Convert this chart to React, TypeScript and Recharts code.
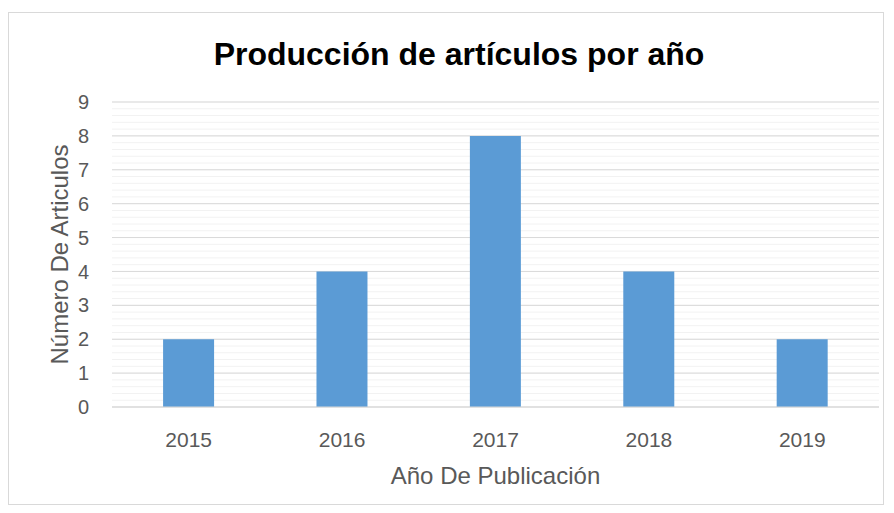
import React from "react";
import { BarChart, Bar, XAxis, YAxis, CartesianGrid } from "recharts";

const years = ["2015", "2016", "2017", "2018", "2019"];
const articles = [2, 4, 8, 4, 2];
const majorTicks = [0, 1, 2, 3, 4, 5, 6, 7, 8, 9];

const chartData = years.map((year, i) => ({ year, count: articles[i] }));

// light minor gridlines every 0.2 between the integer ticks
const minorLines = Array.from({ length: 46 }, (_, i) => Math.round(i * 20) / 100);

const FONT = "'Liberation Sans', Arial, sans-serif";

const YLabel = (props: any) => {
  const { viewBox } = props;
  const cx = viewBox.x + 50;
  const cy = viewBox.y + viewBox.height / 2;
  return (
    <text
      x={cx}
      y={cy}
      transform={`rotate(-90, ${cx}, ${cy})`}
      textAnchor="middle"
      dominantBaseline="central"
      fill="#595959"
      fontSize={24}
      fontFamily={FONT}
    >
      Número De Articulos
    </text>
  );
};

const XLabel = (props: any) => {
  const { viewBox } = props;
  return (
    <text
      x={viewBox.x + viewBox.width / 2}
      y={462}
      textAnchor="middle"
      dominantBaseline="central"
      fill="#595959"
      fontSize={24}
      fontFamily={FONT}
    >
      Año De Publicación
    </text>
  );
};

export default function App() {
  return (
    <div
      style={{
        position: "relative",
        marginTop: 4,
        width: 874,
        height: 491,
        border: "1px solid #d9d9d9",
        background: "#fff",
        fontFamily: FONT,
      }}
    >
      <div
        style={{
          position: "absolute",
          left: 0,
          width: 900,
          top: 25,
          textAlign: "center",
          fontSize: 32,
          lineHeight: "32px",
          fontWeight: "bold",
          color: "#000",
        }}
      >
        Producción de artículos por año
      </div>
      <BarChart
        width={874}
        height={491}
        data={chartData}
        margin={{ top: 89, right: 4, left: 0, bottom: 0 }}
        barCategoryGap="33.3%"
      >
        <CartesianGrid
          vertical={false}
          horizontalValues={minorLines}
          stroke="#f2f2f2"
          strokeWidth={1}
        />
        <CartesianGrid
          vertical={false}
          horizontalValues={majorTicks}
          stroke="#d9d9d9"
          strokeWidth={1}
        />
        <XAxis
          dataKey="year"
          height={97}
          axisLine={{ stroke: "#d9d9d9", strokeWidth: 1 }}
          tickLine={false}
          tickSize={0}
          tickMargin={25}
          tick={{ fill: "#595959", fontSize: 21, fontFamily: FONT }}
          label={<XLabel />}
        />
        <YAxis
          width={103}
          domain={[0, 9]}
          ticks={majorTicks}
          axisLine={false}
          tickLine={false}
          tickSize={0}
          tickMargin={23}
          interval={0}
          tick={{ fill: "#595959", fontSize: 20, fontFamily: FONT }}
          label={<YLabel />}
        />
        <Bar dataKey="count" fill="#5b9bd5" isAnimationActive={false} />
      </BarChart>
    </div>
  );
}
